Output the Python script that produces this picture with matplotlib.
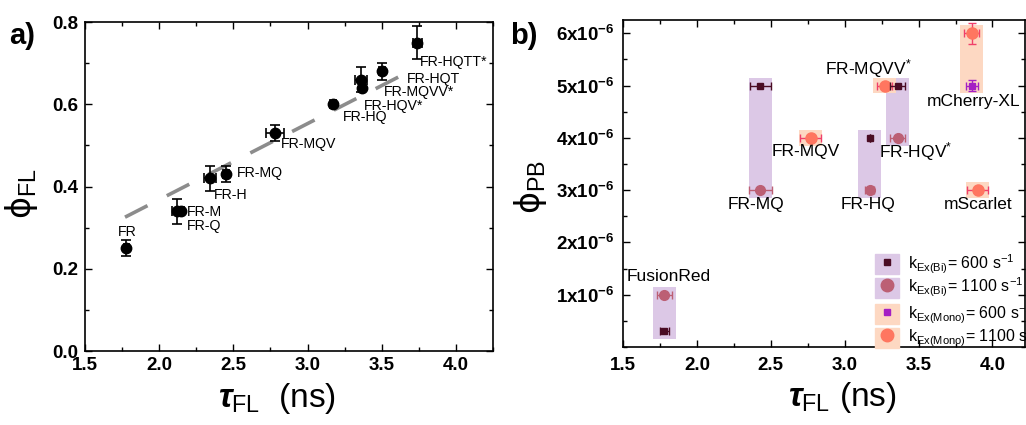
import numpy as np
import matplotlib.pyplot as plt
import matplotlib as mpl
from matplotlib.patches import Patch
from matplotlib.lines import Line2D
from matplotlib.ticker import MultipleLocator

mpl.rcParams['font.family'] = ['Liberation Sans', 'DejaVu Sans']
mpl.rcParams['mathtext.fontset'] = 'custom'
mpl.rcParams['mathtext.rm'] = 'Liberation Sans'
mpl.rcParams['mathtext.bf'] = 'Liberation Sans:bold'
mpl.rcParams['mathtext.it'] = 'Liberation Sans:italic:bold'
mpl.rcParams['mathtext.sf'] = 'DejaVu Sans'
mpl.rcParams['mathtext.fallback'] = 'stixsans'
mpl.rcParams['axes.linewidth'] = 1.2

# ---- panel a: quantum yield vs lifetime ----
fr_names = ['FR', 'FR-M', 'FR-Q', 'FR-H', 'FR-MQ', 'FR-MQV', 'FR-HQ',
            'FR-HQV*', 'FR-MQVV*', 'FR-HQT', 'FR-HQTT*']
tau_fl = [1.78, 2.12, 2.15, 2.34, 2.45, 2.78, 3.17, 3.37, 3.36, 3.50, 3.74]
phi_fl = [0.25, 0.34, 0.34, 0.42, 0.43, 0.53, 0.60, 0.64, 0.66, 0.68, 0.75]
tau_err = [0.02, 0.03, 0.02, 0.04, 0.02, 0.06, 0.02, 0.02, 0.04, 0.02, 0.03]
phi_err = [0.02, 0.03, 0.0, 0.03, 0.02, 0.02, 0.0, 0.0, 0.03, 0.02, 0.04]
fit_slope = 0.185
fit_intercept = -0.002
fit_tau = [1.77, 3.62]

# ---- panel b: photobleaching yield ----
bi_tau = [1.78, 2.43, 3.17, 3.36]
bi600_pb = [0.3, 5.0, 4.0, 5.0]
bi600_xerr = [0.03, 0.07, 0.0, 0.05]
bi1100_pb = [1.0, 3.0, 3.0, 4.0]
bi1100_xerr = [0.05, 0.08, 0.03, 0.05]
mono1100_tau = [2.77, 3.27, 3.86, 3.90]
mono1100_pb = [4.0, 5.0, 6.0, 3.0]
mono1100_xerr = [0.07, 0.05, 0.05, 0.07]
mono1100_yerr = [0.0, 0.0, 0.2, 0.0]
mono600_tau = [3.86]
mono600_pb = [5.0]
mono600_xerr = [0.04]
mono600_yerr = [0.1]
pb_scale = 1e-6

# label placement (x, y, ha)
a_labels = [(1.785, 0.289, 'center'), (2.19, 0.338, 'left'), (2.19, 0.304, 'left'),
            (2.37, 0.38, 'left'), (2.525, 0.432, 'left'), (2.82, 0.503, 'left'),
            (3.235, 0.57, 'left'), (3.378, 0.596, 'left'), (3.513, 0.631, 'left'),
            (3.668, 0.662, 'left'), (3.757, 0.704, 'left')]
b_labels = [('FusionRed', 1.81, 1.34), ('FR-MQ', 2.40, 2.73), ('FR-MQV', 2.74, 3.73),
            ('FR-HQ', 3.16, 2.73), ('FR-HQV$^{*}$', 3.48, 3.73),
            ('FR-MQVV$^{*}$', 3.16, 5.33), ('mCherry-XL', 3.87, 4.69),
            ('mScarlet', 3.90, 2.73)]

c_bi600 = '#4a0c24'
c_bi1100 = '#bc5f74'
c_mono600 = '#a41fc4'
c_mono1100 = '#ff7660'
c_mono1100_err = '#f0406a'
c_purple = '#dcc8e6'
c_orange = '#fdd8c2'

fig = plt.figure(figsize=(10.26, 4.25), dpi=100)


def style_axes(ax):
    ax.tick_params(which='both', direction='in', top=True, right=True, width=1.0)
    ax.tick_params(which='major', length=5)
    ax.tick_params(which='minor', length=3)


# ================= a) =================
ax1 = fig.add_axes([0.0828, 0.1741, 0.3977, 0.774])
xf = np.array(fit_tau)
ax1.plot(xf, fit_slope * xf + fit_intercept, color='#8c8c8c', lw=2.6,
         linestyle=(0, (7, 6)), zorder=1)
ax1.errorbar(tau_fl, phi_fl, xerr=tau_err, yerr=phi_err, fmt='o', color='black',
             ms=7.5, ecolor='black', elinewidth=1.2, capsize=3.5, capthick=1.2, zorder=3)
for name, (lx, ly, ha) in zip(fr_names, a_labels):
    ax1.text(lx, ly, name, ha=ha, va='center', fontsize=10.2)

ax1.set_xlim(1.5, 4.25)
ax1.set_ylim(0, 0.8)
ax1.set_xticks([1.5, 2.0, 2.5, 3.0, 3.5, 4.0],
               ['1.5', '2.0', '2.5', '3.0', '3.5', '4.0'], fontsize=13.5, fontweight='bold')
ax1.set_yticks([0.0, 0.2, 0.4, 0.6, 0.8],
               ['0.0', '0.2', '0.4', '0.6', '0.8'], fontsize=13.5, fontweight='bold')
ax1.xaxis.set_minor_locator(MultipleLocator(0.25))
ax1.yaxis.set_minor_locator(MultipleLocator(0.1))
style_axes(ax1)
ax1.tick_params(axis='x', pad=4)
ax1.tick_params(axis='y', pad=5)
ax1.set_xlabel(r'$\tau_{\rm FL}$  (ns)', fontsize=24)
ax1.xaxis.set_label_coords(0.47, -0.09)
ax1.set_ylabel(r'$\mathsf{\phi}_{\rm FL}$', fontsize=24)
ax1.yaxis.set_label_coords(-0.11, 0.48)
fig.text(0.009, 0.915, 'a)', fontsize=21, fontweight='bold', va='center')

# ================= b) =================
ax2 = fig.add_axes([0.6072, 0.1835, 0.3918, 0.769])
rect_w = 0.155
rect_pad = 0.15

# shaded boxes grouping the two excitation rates
for x, y1, y2 in zip(bi_tau, bi600_pb, bi1100_pb):
    lo = min(y1, y2) - rect_pad
    hi = max(y1, y2) + rect_pad
    ax2.bar(x, (hi - lo) * pb_scale, bottom=lo * pb_scale, width=rect_w,
            color=c_purple, zorder=0)
for x, y in zip(mono1100_tau, mono1100_pb):
    ys = [y] + [m for t, m in zip(mono600_tau, mono600_pb) if t == x]
    lo = min(ys) - rect_pad
    hi = max(ys) + rect_pad
    ax2.bar(x, (hi - lo) * pb_scale, bottom=lo * pb_scale, width=rect_w,
            color=c_orange, zorder=0)

ax2.errorbar(bi_tau, np.array(bi1100_pb) * pb_scale, xerr=bi1100_xerr, fmt='o',
             color=c_bi1100, ms=7, elinewidth=1.0, capsize=3, zorder=3)
ax2.errorbar(bi_tau, np.array(bi600_pb) * pb_scale, xerr=bi600_xerr, fmt='s',
             color=c_bi600, ms=4.5, elinewidth=1.0, capsize=3, zorder=4)
ax2.errorbar(mono1100_tau, np.array(mono1100_pb) * pb_scale, xerr=mono1100_xerr,
             yerr=np.array(mono1100_yerr) * pb_scale, fmt='o', color=c_mono1100,
             ecolor=c_mono1100_err, ms=8, elinewidth=1.0, capsize=3, zorder=3)
ax2.errorbar(mono600_tau, np.array(mono600_pb) * pb_scale, xerr=mono600_xerr,
             yerr=np.array(mono600_yerr) * pb_scale, fmt='s', color=c_mono600,
             ms=4.5, elinewidth=1.0, capsize=3, zorder=4)

for txt, lx, ly in b_labels:
    ax2.text(lx, ly * pb_scale, txt, ha='center', va='center', fontsize=12.5)

ax2.set_xlim(1.5, 4.22)
ax2.set_ylim(0, 6.25e-6)
ax2.set_xticks([1.5, 2.0, 2.5, 3.0, 3.5, 4.0],
               ['1.5', '2.0', '2.5', '3.0', '3.5', '4.0'], fontsize=13.5, fontweight='bold')
ax2.set_yticks([k * pb_scale for k in range(1, 7)],
               [r'$\mathbf{%dx10^{-6}}$' % k for k in range(1, 7)], fontsize=13.5)
ax2.xaxis.set_minor_locator(MultipleLocator(0.25))
ax2.yaxis.set_minor_locator(MultipleLocator(0.5e-6))
style_axes(ax2)
ax2.tick_params(axis='x', pad=7)
ax2.tick_params(axis='y', pad=6)
ax2.set_xlabel(r'$\tau_{\rm FL}$ (ns)', fontsize=24)
ax2.xaxis.set_label_coords(0.546, -0.10)
ax2.set_ylabel(r'$\mathsf{\phi}_{\rm PB}$', fontsize=24)
ax2.yaxis.set_label_coords(-0.185, 0.49)
fig.text(0.497, 0.915, 'b)', fontsize=21, fontweight='bold', va='center')

# legend: two groups, each with its own shaded background
leg_kw = dict(frameon=False, fontsize=11.5, labelspacing=0, handlelength=1.5,
              handleheight=1.55, handletextpad=0.6, borderpad=0, borderaxespad=0,
              loc='upper left')
bi_handles = [(Patch(color=c_purple), Line2D([], [], marker='s', color=c_bi600, ls='', ms=5)),
              (Patch(color=c_purple), Line2D([], [], marker='o', color=c_bi1100, ls='', ms=9))]
mono_handles = [(Patch(color=c_orange), Line2D([], [], marker='s', color=c_mono600, ls='', ms=5)),
                (Patch(color=c_orange), Line2D([], [], marker='o', color=c_mono1100, ls='', ms=9))]
leg1 = ax2.legend(bi_handles, [r'k$_{\rm Ex(Bi)}$= 600 s$^{-1}$', r'k$_{\rm Ex(Bi)}$= 1100 s$^{-1}$'],
                  bbox_to_anchor=(0.626, 0.288), **leg_kw)
ax2.add_artist(leg1)
ax2.legend(mono_handles, [r'k$_{\rm Ex(Mono)}$= 600 s$^{-1}$', r'k$_{\rm Ex(Mono)}$= 1100 s$^{-1}$'],
           bbox_to_anchor=(0.626, 0.135), **leg_kw)

plt.savefig('out.png', dpi=100)
